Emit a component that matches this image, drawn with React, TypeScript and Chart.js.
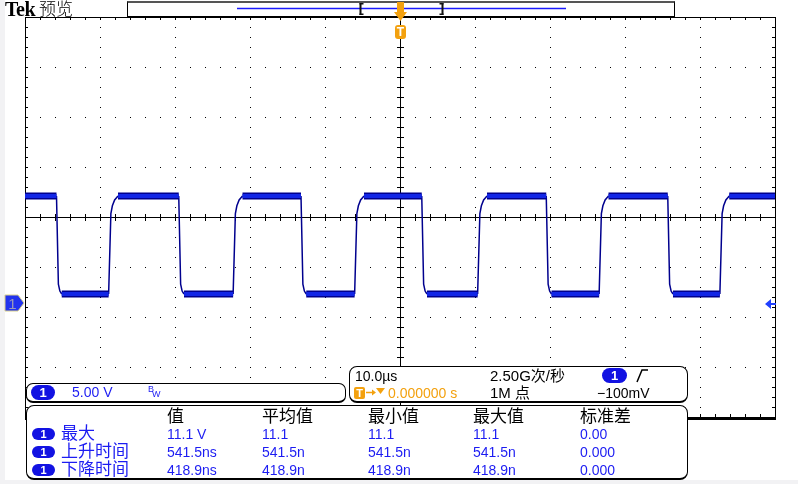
import React, { useEffect, useRef } from 'react';
import { Chart, registerables } from 'chart.js';

Chart.register(...registerables);

// ---- scope settings ----
const TIME_MIN = -50; // µs
const TIME_MAX = 50; // µs
const TIME_PER_DIV = 10; // µs/div
const VOLT_PER_DIV = 5; // V/div
const CENTER_VOLT = 8.5; // volts at graticule centre (ground marker is below centre)

// ---- waveform ----
const HIGH_LEVEL = 10.6; // V
const LOW_LEVEL = 0.8; // V
const fallTimes = [-45.7, -29.4, -13.1, 3.0, 19.6, 35.8]; // µs
const riseTimes = [-38.6, -22.0, -5.8, 10.6, 26.8, 42.9]; // µs
// edge shape: [time offset µs, fraction of swing]
const riseShape: [number, number][] = [[-0.25, 0], [0.05, 0.82], [0.25, 0.9], [0.55, 0.96], [1.0, 1]];
const fallShape: [number, number][] = [[-0.1, 1], [0.15, 0.1], [0.35, 0.03], [0.6, 0]];

// ---- measurement table ----
const measHeaders = ['值', '平均值', '最小值', '最大值', '标准差'];
const measNames = ['最大', '上升时间', '下降时间'];
const measValue = ['11.1 V', '541.5ns', '418.9ns'];
const measMean = ['11.1', '541.5n', '418.9n'];
const measMin = ['11.1', '541.5n', '418.9n'];
const measMax = ['11.1', '541.5n', '418.9n'];
const measStd = ['0.00', '0.000', '0.000'];

const NUM_FONT = "'Liberation Sans', Arial, 'Noto Sans CJK SC', sans-serif";
const CJK_FONT = "'Noto Sans CJK SC', sans-serif";
const BLUE_TXT = '#1c1cf2';
const PILL = '#1212e2';
const ORANGE = '#f3a10f';

type Pt = { x: number; y: number };

function buildWave(): Pt[] {
  const edges = [
    ...fallTimes.map((t) => ({ t, shape: fallShape })),
    ...riseTimes.map((t) => ({ t, shape: riseShape })),
  ].sort((a, b) => a.t - b.t);
  const pts: Pt[] = [{ x: TIME_MIN, y: HIGH_LEVEL }];
  for (const e of edges) {
    for (const [dt, f] of e.shape) pts.push({ x: e.t + dt, y: LOW_LEVEL + f * (HIGH_LEVEL - LOW_LEVEL) });
  }
  pts.push({ x: TIME_MAX, y: HIGH_LEVEL });
  return pts;
}

const gridPlugin = {
  id: 'scopeGrid',
  beforeDatasetsDraw(chart: any) {
    const { ctx, chartArea: a, scales } = chart;
    const xs = scales.x;
    const ys = scales.y;
    const R = Math.round;
    ctx.save();
    ctx.fillStyle = '#000';
    const yMin = CENTER_VOLT - 4 * VOLT_PER_DIV;
    const xMinor = TIME_PER_DIV / 5;
    const yMinor = VOLT_PER_DIV / 5;
    // dotted vertical grid lines
    for (let k = 1; k < 10; k++) {
      if (k === 5) continue;
      const px = R(xs.getPixelForValue(TIME_MIN + k * TIME_PER_DIV));
      for (let j = 1; j < 40; j++) {
        const py = R(ys.getPixelForValue(yMin + j * yMinor));
        ctx.fillRect(px, py, 1, 1);
      }
    }
    // dotted horizontal grid lines
    for (let k = 1; k < 8; k++) {
      if (k === 4) continue;
      const py = R(ys.getPixelForValue(yMin + k * VOLT_PER_DIV));
      for (let j = 1; j < 50; j++) {
        const px = R(xs.getPixelForValue(TIME_MIN + j * xMinor));
        ctx.fillRect(px, py, 1, 1);
      }
    }
    // centre lines with ticks
    const cx = R(xs.getPixelForValue((TIME_MIN + TIME_MAX) / 2));
    const cy = R(ys.getPixelForValue(CENTER_VOLT));
    ctx.fillRect(a.left, cy, a.right - a.left, 1);
    ctx.fillRect(cx, a.top, 1, a.bottom - a.top);
    for (let j = 1; j < 50; j++) {
      const px = R(xs.getPixelForValue(TIME_MIN + j * xMinor));
      ctx.fillRect(px, cy - 3, 1, 7);
      ctx.fillRect(px, R(a.top), 1, 3);
      ctx.fillRect(px, R(a.bottom) - 3, 1, 3);
    }
    for (let j = 1; j < 40; j++) {
      const py = R(ys.getPixelForValue(yMin + j * yMinor));
      ctx.fillRect(cx - 3, py, 7, 1);
      ctx.fillRect(R(a.left), py, 3, 1);
      ctx.fillRect(R(a.right) - 3, py, 3, 1);
    }
    // border
    ctx.fillRect(R(a.left), R(a.top), 1, R(a.bottom - a.top));
    ctx.fillRect(R(a.left), R(a.top), R(a.right - a.left) + 1, 1);
    ctx.fillRect(R(a.right), R(a.top), 1, R(a.bottom - a.top));
    ctx.fillRect(R(a.left), R(a.bottom), R(a.right - a.left) + 1, 3);
    ctx.restore();
  },
};

const abs = (l: number, t: number, extra: React.CSSProperties = {}): React.CSSProperties => ({
  position: 'absolute',
  left: l,
  top: t,
  whiteSpace: 'nowrap',
  lineHeight: 1,
  ...extra,
});

function Pill({ x, y, w, h, fs = 12 }: { x: number; y: number; w: number; h: number; fs?: number }) {
  return (
    <div
      style={abs(x, y, {
        width: w,
        height: h,
        background: PILL,
        borderRadius: h / 2,
        color: '#fff',
        fontFamily: NUM_FONT,
        fontWeight: 'bold',
        fontSize: fs,
        lineHeight: `${h}px`,
        textAlign: 'center',
      })}
    >
      1
    </div>
  );
}

export default function App() {
  const ref = useRef<HTMLCanvasElement>(null);
  useEffect(() => {
    const pts = buildWave();
    const isLevel = (c: any) => pts[c.p0DataIndex].y === pts[c.p1DataIndex].y;
    const chart = new Chart(ref.current!, {
      type: 'line',
      data: {
        datasets: [
          {
            data: pts,
            borderColor: '#1226e6',
            borderWidth: 4,
            pointRadius: 0,
            order: 1,
            segment: {
              borderColor: (c: any) => (isLevel(c) ? '#1226e6' : 'rgba(0,0,0,0)'),
            },
          } as any,
          {
            data: pts,
            borderColor: '#00008e',
            borderWidth: 1.5,
            pointRadius: 0,
            order: 2,
            segment: {
              borderWidth: (c: any) => (isLevel(c) ? 7 : 1.5),
            },
          } as any,
        ],
      },
      options: {
        responsive: false,
        animation: false,
        devicePixelRatio: 1,
        events: [],
        layout: { padding: { left: 25, top: 17, right: 23, bottom: 67 } },
        scales: {
          x: { type: 'linear', min: TIME_MIN, max: TIME_MAX, display: false },
          y: {
            type: 'linear',
            min: CENTER_VOLT - 4 * VOLT_PER_DIV,
            max: CENTER_VOLT + 4 * VOLT_PER_DIV,
            display: false,
          },
        },
        plugins: { legend: { display: false }, tooltip: { enabled: false } },
      },
      plugins: [gridPlugin],
    });
    return () => chart.destroy();
  }, []);

  const colX = [167, 262, 368, 473, 580];
  const cols = [measValue, measMean, measMin, measMax, measStd];
  const rowTops = [427, 445, 463];

  return (
    <div style={{ position: 'absolute', left: 0, top: 0, width: 798, height: 484, background: '#f2f2f4', overflow: 'hidden' }}>
      <div style={{ position: 'absolute', left: 5, top: 0, width: 793, height: 480, background: '#fff' }} />
      <canvas ref={ref} width={798} height={484} style={{ position: 'absolute', left: 0, top: 0, width: 798, height: 484 }} />

      {/* title */}
      <div style={abs(5, -1, { fontFamily: "'Liberation Serif', serif", fontWeight: 'bold', fontSize: 20, letterSpacing: -0.5 })}>Tek</div>
      <div style={abs(39, -1, { fontFamily: CJK_FONT, fontSize: 17, fontWeight: 300 })}>预览</div>

      {/* record view box */}
      <div style={abs(127, 1, { width: 548, height: 16, boxSizing: 'border-box', border: '1px solid #000', borderTop: '2px solid #555', background: '#fff' })} />

      {/* boxes */}
      <div style={abs(26, 383, { width: 320, height: 20, boxSizing: 'border-box', border: '1px solid #000', borderBottomWidth: 2, borderRadius: 7, background: '#fff' })} />
      <div style={abs(349, 366, { width: 339, height: 37, boxSizing: 'border-box', border: '1px solid #000', borderBottomWidth: 2, borderRadius: 8, background: '#fff' })} />
      <div style={abs(26, 405, { width: 662, height: 75, boxSizing: 'border-box', border: '1px solid #000', borderBottomWidth: 2, borderRadius: 8, background: '#fff' })} />

      <svg width={798} height={484} style={{ position: 'absolute', left: 0, top: 0 }}>
        {/* record view */}
        <line x1={237} y1={8.5} x2={566} y2={8.5} stroke="#1a1aff" strokeWidth={1.5} />
        <rect x={359.5} y={3} width={2} height={12} fill="#111" />
        <rect x={359.5} y={3} width={4} height={1.5} fill="#111" />
        <rect x={359.5} y={13.5} width={4} height={1.5} fill="#111" />
        <rect x={441.5} y={3} width={2} height={12} fill="#111" />
        <rect x={439.5} y={3} width={4} height={1.5} fill="#111" />
        <rect x={439.5} y={13.5} width={4} height={1.5} fill="#111" />
        {/* trigger position marker */}
        <polygon points="397,2 404,2 404,12 407,12 400.5,21 394,12 397,12" fill={ORANGE} />
        <rect x={395} y={25} width={11} height={14} rx={3} fill={ORANGE} />
        {/* ch1 ground marker */}
        <polygon points="5,295 18,295 24,303 18,311 5,311" fill="#2233ee" stroke="#d8d08a" strokeWidth={1} />
        {/* trigger level arrow */}
        <polygon points="765,304 771,299 771,303 776,303 776,305 771,305 771,309" fill="#2040ff" />
        {/* slope glyph */}
        <polyline points="637,382 642,370 648,370" fill="none" stroke="#000" strokeWidth={1.5} />
        {/* trigger row icons */}
        <rect x={354} y={387} width={11} height={12} rx={2} fill={ORANGE} />
        <line x1={366} y1={392.5} x2={373} y2={392.5} stroke={ORANGE} strokeWidth={1.5} />
        <polygon points="372,389.5 376,392.5 372,395.5" fill={ORANGE} />
        <polygon points="376,388 385,388 380.5,394" fill={ORANGE} />
      </svg>

      {/* marker texts */}
      <div style={abs(395, 26, { width: 11, textAlign: 'center', color: '#fff', fontFamily: NUM_FONT, fontWeight: 'bold', fontSize: 12 })}>T</div>
      <div style={abs(5, 296, { width: 15, textAlign: 'center', color: '#9a9ab8', fontFamily: NUM_FONT, fontSize: 15 })}>1</div>

      {/* channel box */}
      <Pill x={31} y={385} w={24} h={15} fs={13} />
      <div style={abs(72, 385, { color: BLUE_TXT, fontFamily: NUM_FONT, fontSize: 14 })}>5.00 V</div>
      <div style={abs(148, 385, { color: BLUE_TXT, fontFamily: NUM_FONT, fontSize: 9 })}>B</div>
      <div style={abs(152, 390, { color: BLUE_TXT, fontFamily: NUM_FONT, fontSize: 9 })}>W</div>

      {/* timebase box */}
      <div style={abs(355, 369, { color: '#000', fontFamily: NUM_FONT, fontSize: 14 })}>10.0µs</div>
      <div style={abs(490, 368, { color: '#000', fontFamily: NUM_FONT, fontSize: 15 })}>2.50G次/秒</div>
      <Pill x={602} y={368} w={25} h={15} fs={13} />
      <div style={abs(354, 388, { width: 11, textAlign: 'center', color: '#fff', fontFamily: NUM_FONT, fontWeight: 'bold', fontSize: 11 })}>T</div>
      <div style={abs(388, 386, { color: ORANGE, fontFamily: NUM_FONT, fontSize: 14 })}>0.000000 s</div>
      <div style={abs(490, 385, { color: '#000', fontFamily: NUM_FONT, fontSize: 15 })}>1M 点</div>
      <div style={abs(597, 386, { color: '#000', fontFamily: NUM_FONT, fontSize: 14 })}>−100mV</div>

      {/* measurements */}
      {measHeaders.map((h, i) => (
        <div key={'h' + i} style={abs(colX[i], 406, { color: '#000', fontFamily: CJK_FONT, fontSize: 17 })}>{h}</div>
      ))}
      {measNames.map((n, r) => (
        <React.Fragment key={'r' + r}>
          <Pill x={32} y={rowTops[r] + 1} w={23} h={12} fs={11} />
          <div style={abs(61, rowTops[r] - 4, { color: BLUE_TXT, fontFamily: CJK_FONT, fontSize: 17 })}>{n}</div>
          {cols.map((c, i) => (
            <div key={'c' + i} style={abs(colX[i], rowTops[r], { color: BLUE_TXT, fontFamily: NUM_FONT, fontSize: 14 })}>{c[r]}</div>
          ))}
        </React.Fragment>
      ))}
    </div>
  );
}
